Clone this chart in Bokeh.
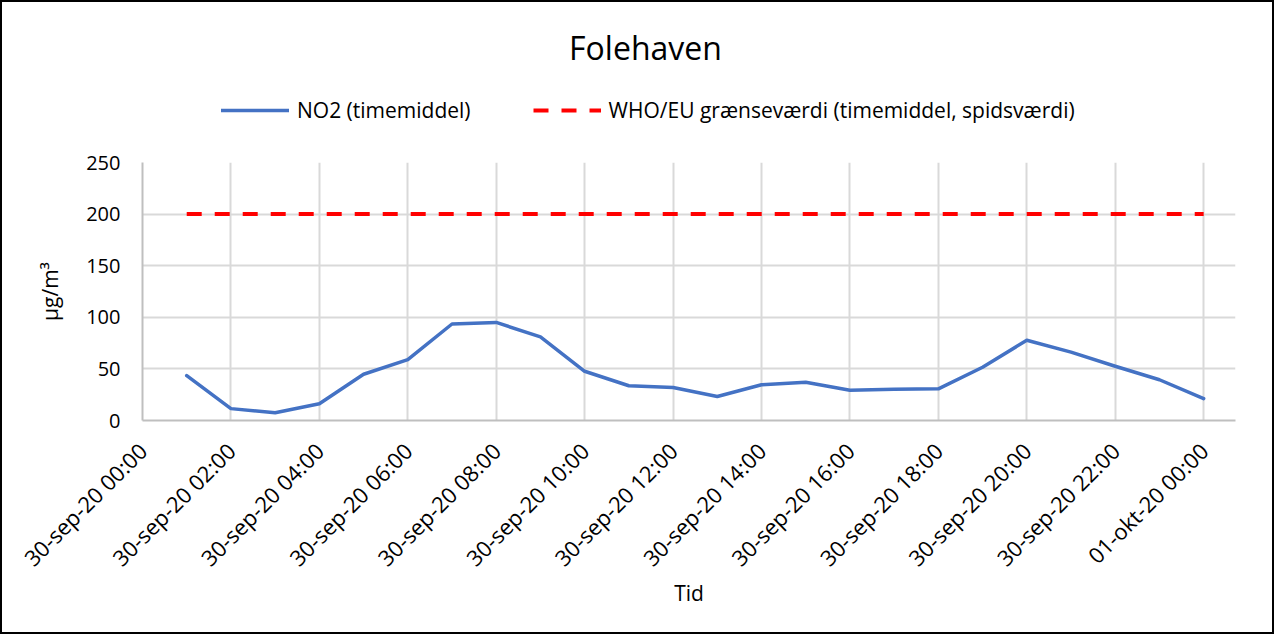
import numpy as np
from bokeh.plotting import figure
from bokeh.layouts import column
from bokeh.models import FixedTicker, Legend, LegendItem, Label, Range1d
from bokeh.embed import file_html
from bokeh.resources import INLINE

# ---- data ----
hours = list(range(1, 25))
no2 = [43.5, 11.5, 7.5, 16.3, 44.8, 59.0, 93.5, 95.0, 81.0, 47.7, 33.7, 32.0,
       23.2, 34.6, 37.0, 29.4, 30.4, 30.7, 51.6, 77.8, 66.3, 52.6, 39.5, 21.2]
limit = [200] * 24
tick_hours = list(range(0, 25, 2))
tick_labels = ["30-sep-20 00:00", "30-sep-20 02:00", "30-sep-20 04:00",
               "30-sep-20 06:00", "30-sep-20 08:00", "30-sep-20 10:00",
               "30-sep-20 12:00", "30-sep-20 14:00", "30-sep-20 16:00",
               "30-sep-20 18:00", "30-sep-20 20:00", "30-sep-20 22:00",
               "01-okt-20 00:00"]
y_ticks = [0, 50, 100, 150, 200, 250]
series_names = ["NO2 (timemiddel)", "WHO/EU grænseværdi (timemiddel, spidsværdi)"]
title_text = "Folehaven"

FONT = "Open Sans"
BLUE = "#4472C4"
RED = "#FF0000"

# ---- header (title + legend); its frame aligns with the main frame ----
hdr = figure(width=1270, height=140, output_backend="svg", toolbar_location=None,
             x_range=Range1d(0, 1093), y_range=Range1d(0, 140),
             x_axis_location=None, y_axis_location=None,
             min_border=0)
hdr.grid.visible = False
hdr.outline_line_color = None
hdr.border_fill_color = "white"

nan = [float("nan")]
h1 = hdr.line(nan, nan, line_color=BLUE, line_width=3.5, line_cap="round")
h2 = hdr.line(nan, nan, line_color=RED, line_width=4, line_dash="15 13")

hdr.add_layout(Label(x=503, y=95, text=title_text, text_align="center",
                     text_baseline="middle", text_font=FONT,
                     text_font_size="32px", text_color="#000000"))

legend = Legend(items=[LegendItem(label=series_names[0], renderers=[h1]),
                       LegendItem(label=series_names[1], renderers=[h2])],
                orientation="horizontal", location=(79, 18),
                glyph_width=68, glyph_height=20, label_standoff=8, spacing=62,
                padding=0, margin=0, border_line_color=None,
                background_fill_alpha=0,
                label_text_font=FONT, label_text_font_size="21px",
                label_text_color="#000000")
hdr.add_layout(legend)

# ---- main chart ----
p = figure(width=1270, height=490, output_backend="svg", toolbar_location=None,
           x_range=Range1d(0, 24.72), y_range=Range1d(0, 250),
           min_border_left=140, min_border_right=37,
           min_border_top=20, min_border_bottom=212)
p.outline_line_color = None
p.background_fill_color = "white"
p.border_fill_color = "white"

p.line(hours, no2, line_color=BLUE, line_width=3.5,
       line_join="round", line_cap="round")
p.line(hours, limit, line_color=RED, line_width=4, line_dash="15 13")

p.xaxis.ticker = FixedTicker(ticks=tick_hours)
p.xaxis.major_label_overrides = dict(zip(tick_hours, tick_labels))
p.xaxis.major_label_orientation = np.pi / 4
p.xaxis.axis_label = "Tid"
p.yaxis.axis_label = "µg/m³"
p.yaxis.ticker = FixedTicker(ticks=y_ticks)
for ax in (p.xaxis, p.yaxis):
    ax.major_tick_line_color = None
    ax.minor_tick_line_color = None
    ax.major_tick_out = 0
    ax.major_tick_in = 0
    ax.axis_line_color = "#BFBFBF"
    ax.axis_line_width = 2
    ax.major_label_text_font = FONT
    ax.major_label_text_font_size = "20px"
    ax.major_label_text_color = "#000000"
    ax.axis_label_text_font = FONT
    ax.axis_label_text_font_size = "21px"
    ax.axis_label_text_font_style = "normal"
    ax.axis_label_text_color = "#000000"
p.xaxis.major_label_text_font_size = "22px"
p.xaxis.major_label_standoff = 26
p.xaxis.axis_label_standoff = -7
p.yaxis.major_label_standoff = 22
p.yaxis.axis_label_standoff = 19

p.xgrid.grid_line_color = "#D9D9D9"
p.xgrid.grid_line_width = 2
p.ygrid.grid_line_color = "#D9D9D9"
p.ygrid.grid_line_width = 2

layout = column(hdr, p, spacing=0, styles={"border": "2px solid #000000"})

open("out.html", "w").write(file_html(layout, INLINE))
